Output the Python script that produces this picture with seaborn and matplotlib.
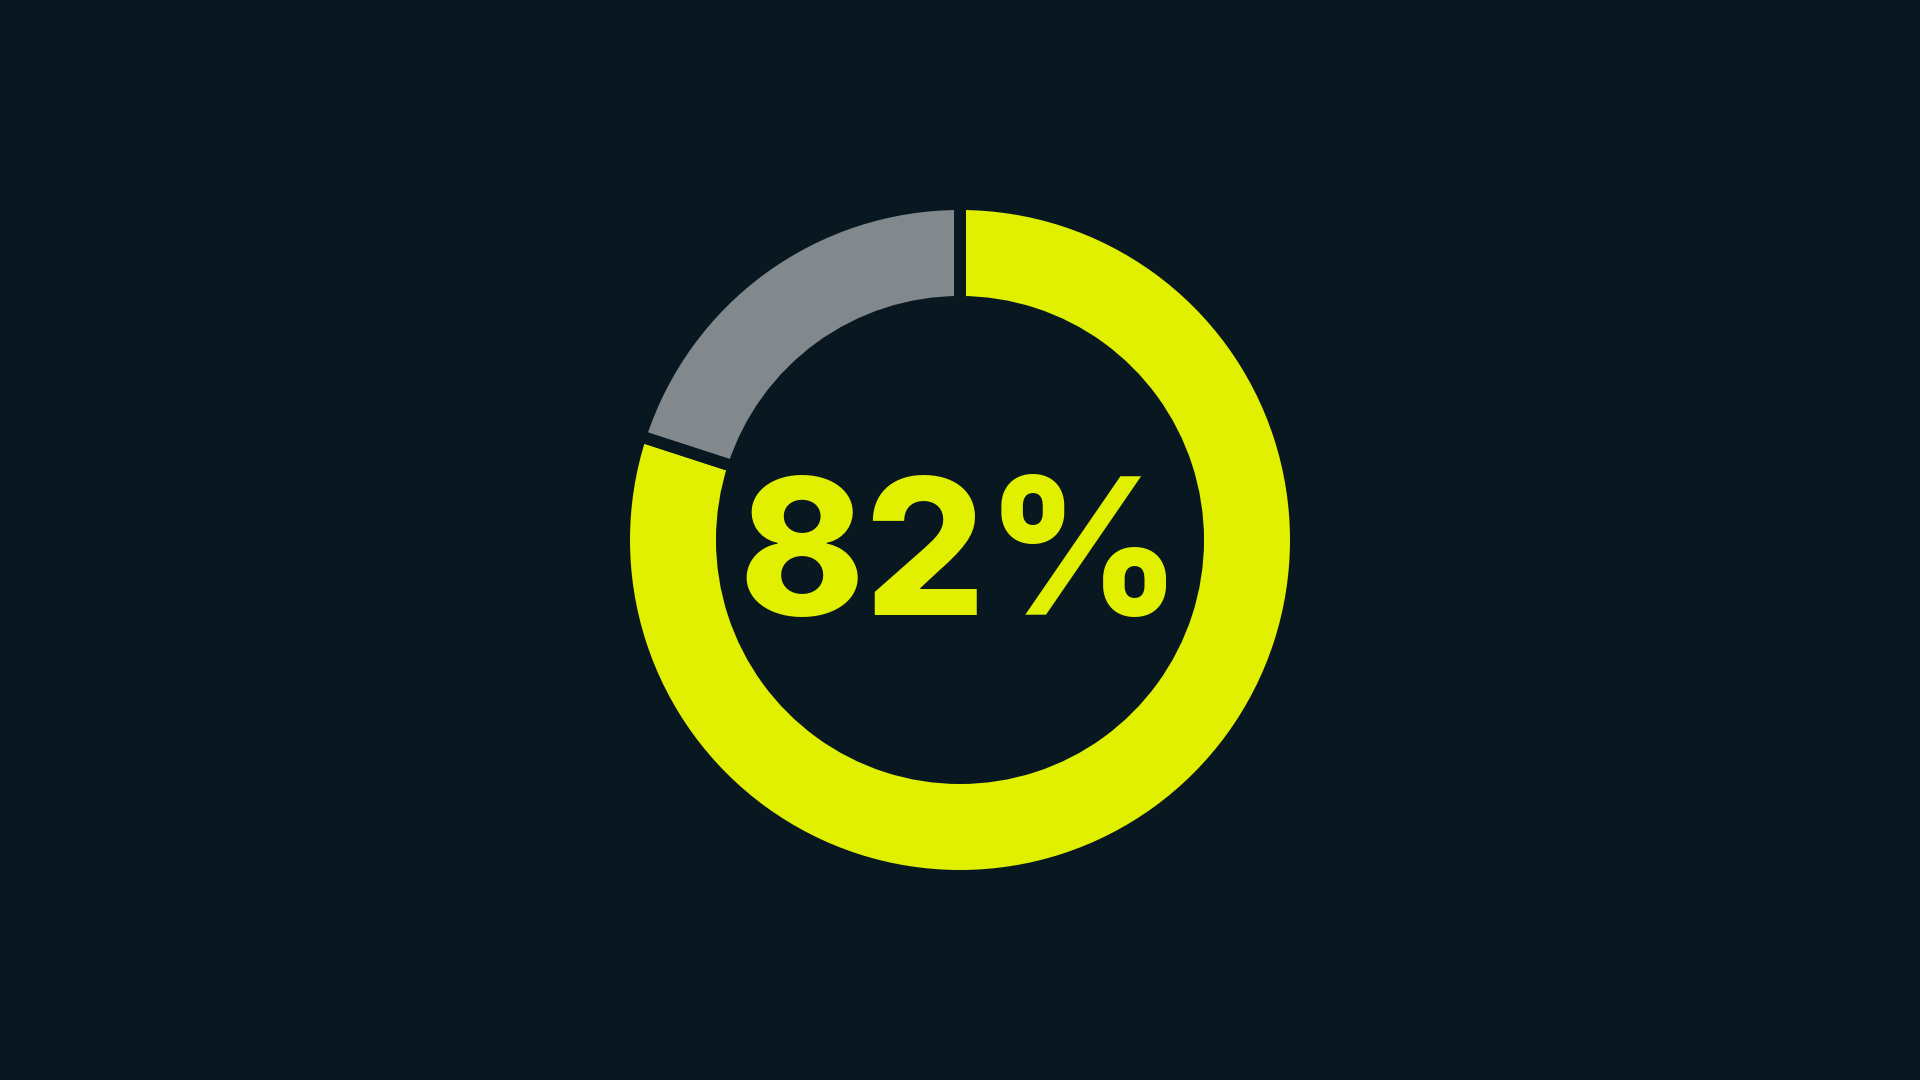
import seaborn as sns
import matplotlib.pyplot as plt

# valores
categorias = ["Sim", "Não"]
fatias = [80, 20]
rotulo = "82%"

fundo = "#091820"
cores = ["#e1f000", "#81898c"]

sns.set_theme(style="white", rc={"figure.facecolor": fundo, "axes.facecolor": fundo})

fig = plt.figure(figsize=(19.2, 10.8), dpi=100)
ax = fig.add_axes([0, 0, 1, 1])

# donut (gap feito pela borda na cor do fundo)
ax.pie(fatias, colors=cores, startangle=90, counterclock=False,
       radius=3.36, frame=True,
       wedgeprops=dict(width=0.98, edgecolor=fundo, linewidth=8.64))
ax.set_xlim(-9.6, 9.6)
ax.set_ylim(-5.4, 5.4)
ax.set_aspect("equal")
ax.axis("off")

ax.text(0, -0.75, rotulo, ha="center", va="baseline", color=cores[0],
        fontsize=137, fontweight="heavy", family=["Inter", "DejaVu Sans"])

fig.savefig("out.png", dpi=100, facecolor=fundo)
